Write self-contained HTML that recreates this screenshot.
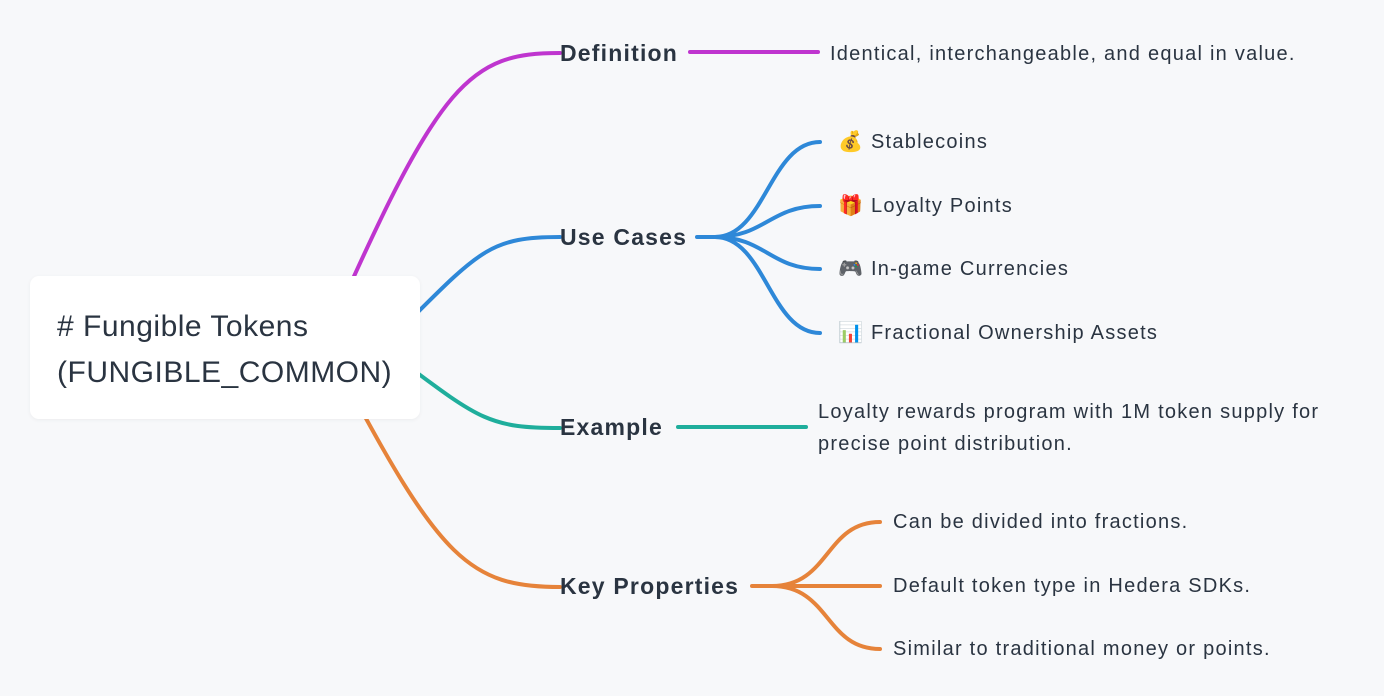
<!DOCTYPE html>
<html><head><meta charset="utf-8"><style>
html,body{margin:0;padding:0;background:#f7f8fa;}
body{width:1384px;height:696px;position:relative;overflow:hidden;font-family:"Liberation Sans","Noto Sans CJK SC",sans-serif;color:#2a3441;}
.t{position:absolute;white-space:nowrap;font-size:20px;line-height:32px;letter-spacing:1.25px;}
.b{position:absolute;white-space:nowrap;font-size:23px;font-weight:bold;letter-spacing:1.2px;}
.root{position:absolute;left:30px;top:276px;width:390px;height:143px;background:#fff;border-radius:9px;box-shadow:0 1px 4px rgba(0,0,0,0.05);}
.root div{position:absolute;left:27px;top:28px;font-size:30px;line-height:46px;letter-spacing:0.5px;}
</style></head><body>
<svg width="1384" height="696" style="position:absolute;left:0;top:0" fill="none" stroke-width="4" stroke-linecap="round">
<path d="M330,330 C440,80 470,53 560,53" stroke="#bf35cf"/>
<line x1="690" y1="52" x2="818" y2="52" stroke="#bf35cf"/>
<path d="M400,330 C480,250 490,237 560,237" stroke="#2e88d8"/>
<path d="M697,237 L715,237" stroke="#2e88d8"/>
<path d="M715,237 C765,237 770,142 820,142" stroke="#2e88d8"/>
<path d="M715,237 C765,237 770,206 820,206" stroke="#2e88d8"/>
<path d="M715,237 C765,237 770,269 820,269" stroke="#2e88d8"/>
<path d="M715,237 C765,237 770,333 820,333" stroke="#2e88d8"/>
<path d="M400,360 C480,420 490,428 560,428" stroke="#1fae9c"/>
<line x1="678" y1="427" x2="806" y2="427" stroke="#1fae9c"/>
<path d="M340,370 C440,560 470,587 560,587" stroke="#e6833a"/>
<path d="M752,586 L772,586" stroke="#e6833a"/>
<path d="M772,586 C830,586 825,522 880,522" stroke="#e6833a"/>
<path d="M772,586 L880,586" stroke="#e6833a"/>
<path d="M772,586 C830,586 825,649 880,649" stroke="#e6833a"/>
</svg>
<div class="root"><div># Fungible Tokens<br>(FUNGIBLE_COMMON)</div></div>
<div class="b" style="left:560px;top:40px">Definition</div>
<div class="b" style="left:560px;top:224px">Use Cases</div>
<div class="b" style="left:560px;top:414px">Example</div>
<div class="b" style="left:560px;top:573px">Key Properties</div>
<div class="t" style="left:830px;top:38px">Identical, interchangeable, and equal in value.</div>
<div class="t" style="left:838px;top:126px">💰 Stablecoins</div>
<div class="t" style="left:838px;top:190px">🎁 Loyalty Points</div>
<div class="t" style="left:838px;top:253px">🎮 In-game Currencies</div>
<div class="t" style="left:838px;top:317px">📊 Fractional Ownership Assets</div>
<div class="t" style="left:818px;top:396px">Loyalty rewards program with 1M token supply for<br>precise point distribution.</div>
<div class="t" style="left:893px;top:506px">Can be divided into fractions.</div>
<div class="t" style="left:893px;top:570px">Default token type in Hedera SDKs.</div>
<div class="t" style="left:893px;top:633px">Similar to traditional money or points.</div>
</body></html>
